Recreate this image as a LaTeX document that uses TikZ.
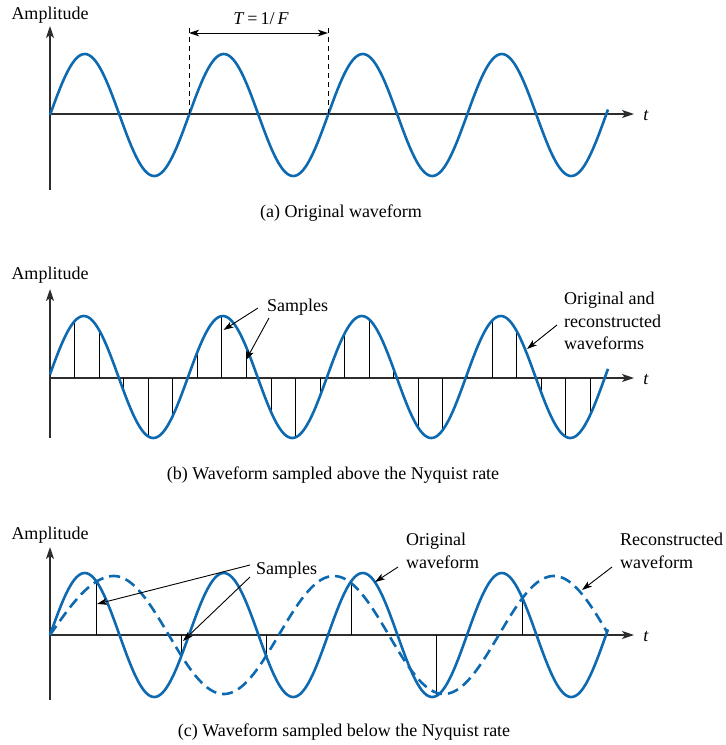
\documentclass[tikz,border=0pt]{standalone}
\usepackage{fontspec}
\setmainfont{Liberation Serif}
\usetikzlibrary{arrows.meta}
\definecolor{wave}{RGB}{14,106,176}
\definecolor{axisc}{RGB}{45,45,45}
\begin{document}
\begin{tikzpicture}[x=1pt,y=-1pt,
  lbl/.style={font=\fontsize{18}{22.5}\selectfont, inner sep=0pt},
  wavel/.style={draw=wave, line width=2.6pt, line join=round},
  dwave/.style={wavel, dash pattern=on 11pt off 6pt},
  axisl/.style={draw=axisc, line width=1.2pt, -{Stealth[length=12pt,width=8pt,inset=3pt]}},
  smp/.style={draw=black, line width=0.8pt},
  callout/.style={draw=black, line width=0.9pt, -{Stealth[length=10pt,width=6.5pt,inset=2.5pt]}},
  guide/.style={draw=black, line width=0.8pt, dash pattern=on 5pt off 4pt},
]
\useasboundingbox (0,0) rectangle (726,745);

%% ---------------- (a) ----------------
\node[lbl] (ampa) at (50,15) {Amplitude};
\coordinate (oa) at (50,114);
\coordinate (ya) at (50,26);
\coordinate (yab) at (50,190);
\coordinate (xa) at (634,114);
\draw[axisl] (yab) -- (ya);
\draw[axisl] (oa) -- (xa);
\node[lbl] (ta) at (646,116) {\textit{t}};
\draw[wavel] plot[domain=50:608, samples=320, smooth] (\x, {115 - 61*sin(2.58993*(\x-50))});
\coordinate (ga1) at (189,28);
\coordinate (ga1b) at (189,114);
\coordinate (ga2) at (328,28);
\coordinate (ga2b) at (328,114);
\draw[guide] (ga1) -- (ga1b);
\draw[guide] (ga2) -- (ga2b);
\coordinate (pa1) at (189,33);
\coordinate (pa2) at (328,33);
\draw[line width=1pt, {Stealth[length=10pt,width=6.5pt,inset=2.5pt]}-{Stealth[length=10pt,width=6.5pt,inset=2.5pt]}] (pa1) -- (pa2);
\node[lbl] (Tlab) at (261,19) {\textit{T}\,=\,1/\,\textit{F}};
\node[lbl] (capa) at (341,213) {(a) Original waveform};

%% ---------------- (b) ----------------
\node[lbl] (ampb) at (50,275) {Amplitude};
\coordinate (ob) at (50,378);
\coordinate (yb) at (50,289);
\coordinate (ybb) at (50,438);
\coordinate (xb) at (634,378);
\draw[axisl] (ybb) -- (yb);
\draw[axisl] (ob) -- (xb);
\node[lbl] (tb) at (646,380) {\textit{t}};
\foreach \k in {1,...,22}{
  \pgfmathsetmacro\xs{50+24.55*\k}
  \pgfmathsetmacro\ys{377-61*sin(2.58993*(\xs-50)+2.5)}
  \draw[smp] (\xs,378) -- (\xs,\ys);
}
\draw[wavel] plot[domain=50:608, samples=320, smooth] (\x, {377 - 61*sin(2.58993*(\x-50)+2.5)});
\node[lbl, anchor=west] (sampb) at (267,307) {Samples};
\coordinate (sb1s) at (258,308);
\coordinate (sb1) at (223.5,330);
\coordinate (sb2s) at (269,318);
\coordinate (sb2) at (246,360);
\draw[callout] (sb1s) -- (sb1);
\draw[callout] (sb2s) -- (sb2);
\node[lbl, anchor=north west, align=left] (origb) at (564,292) {Original and\\reconstructed\\waveforms};
\coordinate (ob1s) at (557,325);
\coordinate (ob1) at (527,349);
\draw[callout] (ob1s) -- (ob1);
\node[lbl] (capb) at (333,475) {(b) Waveform sampled above the Nyquist rate};

%% ---------------- (c) ----------------
\node[lbl] (ampc) at (50,535) {Amplitude};
\coordinate (oc) at (50,635);
\coordinate (yc) at (50,547);
\coordinate (ycb) at (50,700);
\coordinate (xc) at (634,635);
\draw[axisl] (ycb) -- (yc);
\draw[axisl] (oc) -- (xc);
\node[lbl] (tc) at (646,637) {\textit{t}};
\foreach \k in {0,...,5}{
  \pgfmathsetmacro\xs{96+85.2*\k}
  \pgfmathsetmacro\ys{635-62*sin(2.58993*(\xs-50))}
  \draw[smp] (\xs,635) -- (\xs,\ys);
}
\draw[dwave] plot[domain=50:607, samples=320, smooth] (\x, {635 - 59*sin(1.63636*(\x-58.8) + 14.44*max(0,1-(\x-50)/60))});
\draw[wavel] plot[domain=50:608, samples=320, smooth] (\x, {635 - 62*sin(2.58993*(\x-50))});
\node[lbl, anchor=west] (sampc) at (256,570) {Samples};
\coordinate (sc1s) at (250,565);
\coordinate (sc1) at (97,604);
\coordinate (sc2s) at (250,577);
\coordinate (sc2) at (183,641);
\draw[callout] (sc1s) -- (sc1);
\draw[callout] (sc2s) -- (sc2);
\node[lbl, anchor=north west, align=left] (origc) at (406,533) {Original\\waveform};
\coordinate (oc1s) at (398,567);
\coordinate (oc1) at (375,582);
\draw[callout] (oc1s) -- (oc1);
\node[lbl, anchor=north west, align=left] (recc) at (620,533) {Reconstructed\\waveform};
\coordinate (rc1s) at (612,567);
\coordinate (rc1) at (582,590);
\draw[callout] (rc1s) -- (rc1);
\node[lbl] (capc) at (344,732) {(c) Waveform sampled below the Nyquist rate};
\end{tikzpicture}
\end{document}
